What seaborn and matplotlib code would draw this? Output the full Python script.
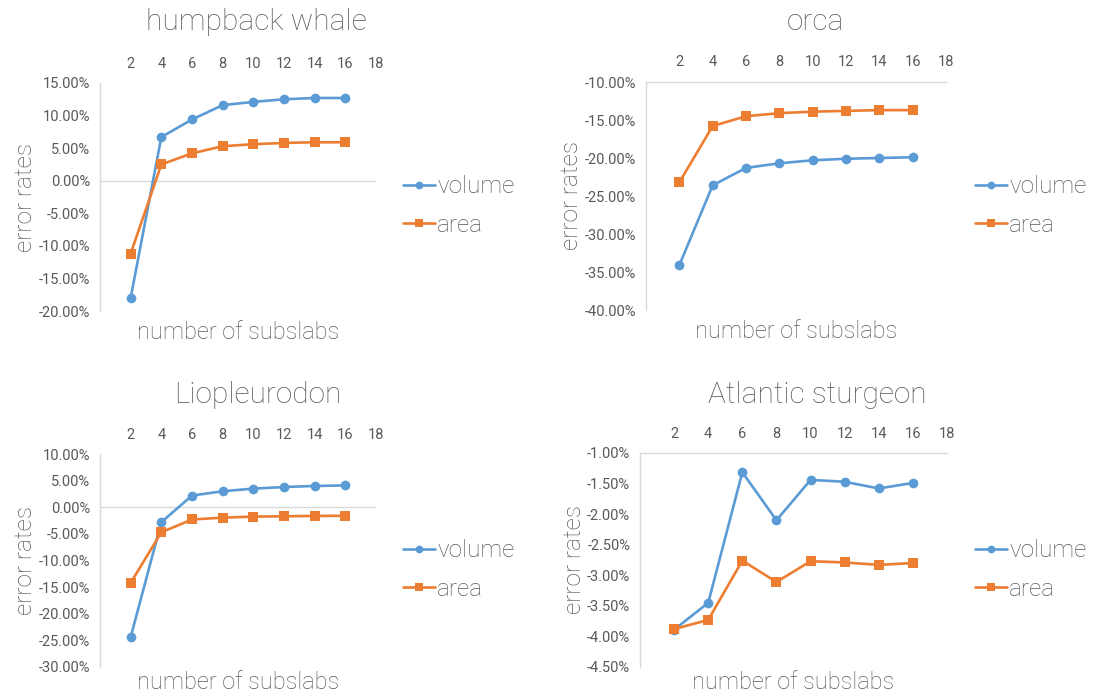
import matplotlib
matplotlib.use("Agg")
import matplotlib.pyplot as plt
import seaborn as sns
import pandas as pd
from matplotlib.ticker import FuncFormatter, FixedLocator

sns.set_theme(style="white")
plt.rcParams['font.family'] = ['Roboto', 'Open Sans', 'DejaVu Sans']

subslabs = [2, 4, 6, 8, 10, 12, 14, 16]
series_names = ["volume", "area"]

humpback_volume = [-18.0, 6.7, 9.4, 11.6, 12.1, 12.5, 12.7, 12.7]
humpback_area = [-11.2, 2.5, 4.2, 5.3, 5.6, 5.8, 5.9, 5.9]
orca_volume = [-34.1, -23.6, -21.3, -20.7, -20.3, -20.1, -20.0, -19.9]
orca_area = [-23.2, -15.8, -14.5, -14.1, -13.9, -13.8, -13.7, -13.7]
lio_volume = [-24.4, -2.8, 2.2, 3.0, 3.5, 3.8, 4.0, 4.1]
lio_area = [-14.2, -4.7, -2.3, -1.95, -1.76, -1.7, -1.63, -1.6]
sturgeon_volume = [-3.89, -3.45, -1.315, -2.10, -1.44, -1.47, -1.58, -1.49]
sturgeon_area = [-3.88, -3.73, -2.76, -3.11, -2.77, -2.79, -2.83, -2.80]

titles = ["humpback whale", "orca", "Liopleurodon", "Atlantic sturgeon"]
y_ticks = [
    [15, 10, 5, 0, -5, -10, -15, -20],
    [-10, -15, -20, -25, -30, -35, -40],
    [10, 5, 0, -5, -10, -15, -20, -25, -30],
    [-1.0, -1.5, -2.0, -2.5, -3.0, -3.5, -4.0, -4.5],
]
x_ticks = [2, 4, 6, 8, 10, 12, 14, 16, 18]

data = [
    (humpback_volume, humpback_area),
    (orca_volume, orca_area),
    (lio_volume, lio_area),
    (sturgeon_volume, sturgeon_area),
]

W, H = 1097, 696
fig = plt.figure(figsize=(W / 100, H / 100), dpi=100)

# axes boxes in pixel coords: left, top, right, bottom
boxes = [
    (100, 83, 376, 311),
    (646, 82, 946, 310),
    (100, 454, 376, 667),
    (640, 453, 947, 667),
]
title_pos = [(256, 22), (815, 22), (258, 395), (817, 395)]
legend_pos = [(403, 206), (975, 206), (403, 570), (975, 570)]
xlabel_pad = [7, 7, 3, 3]

BLUE = "#5B9BD5"
ORANGE = "#ED7D31"
TXT = "#595959"
GRID = "#D9D9D9"
LIGHT = "light"

for i, (box, (vol, area)) in enumerate(zip(boxes, data)):
    l, t, r, b = box
    ax = fig.add_axes([l / W, 1 - b / H, (r - l) / W, (b - t) / H])
    df = pd.DataFrame({
        "n": subslabs * 2,
        "value": list(vol) + list(area),
        "series": [series_names[0]] * len(vol) + [series_names[1]] * len(area),
    })
    sns.lineplot(data=df, x="n", y="value", hue="series", style="series",
                 markers={"volume": "o", "area": "s"}, dashes=False,
                 palette={"volume": BLUE, "area": ORANGE}, ax=ax,
                 linewidth=1.9, markersize=7, markeredgewidth=0, legend=True)
    yt = y_ticks[i]
    ax.set_ylim(min(yt), max(yt))
    ax.set_xlim(0, 18)
    ax.yaxis.set_major_locator(FixedLocator(yt))
    ax.yaxis.set_major_formatter(FuncFormatter(lambda v, p: f"{v:.2f}%"))
    ax.xaxis.set_major_locator(FixedLocator(x_ticks))
    ax.xaxis.tick_top()
    ax.xaxis.set_label_position("bottom")
    ax.tick_params(axis="both", length=0, labelsize=10.5, colors=TXT)
    ax.tick_params(axis="x", pad=9)
    ax.tick_params(axis="y", pad=7)
    for s in ["right", "bottom"]:
        ax.spines[s].set_visible(False)
    ax.spines["left"].set_color(GRID)
    ax.spines["left"].set_linewidth(1.0)
    if 0 < max(yt):
        ax.spines["top"].set_visible(False)
        ax.axhline(0, color=GRID, linewidth=1.0, zorder=0)
    else:
        ax.spines["top"].set_color(GRID)
        ax.spines["top"].set_linewidth(1.0)
    ax.set_xlabel("number of subslabs", fontsize=17, color=TXT,
                  labelpad=xlabel_pad[i], fontweight=LIGHT)
    ax.set_ylabel("error rates", fontsize=17.5, color=TXT, labelpad=1,
                  fontweight=LIGHT)
    handles, labels = ax.get_legend_handles_labels()
    lx, ly = legend_pos[i]
    leg = ax.legend(handles, labels, loc="center left", frameon=False,
                    bbox_to_anchor=(lx / W, 1 - ly / H), bbox_transform=fig.transFigure,
                    fontsize=17.5, labelcolor=TXT, handlelength=1.3, handletextpad=0.1,
                    labelspacing=0.62, borderpad=0, borderaxespad=0, markerscale=0.8)
    for txt in leg.get_texts():
        txt.set_fontweight(LIGHT)
    tx, ty = title_pos[i]
    fig.text(tx / W, 1 - ty / H, titles[i], ha="center", va="center",
             fontsize=21.5, color=TXT, fontweight=LIGHT)

fig.savefig("out.png", dpi=100)
